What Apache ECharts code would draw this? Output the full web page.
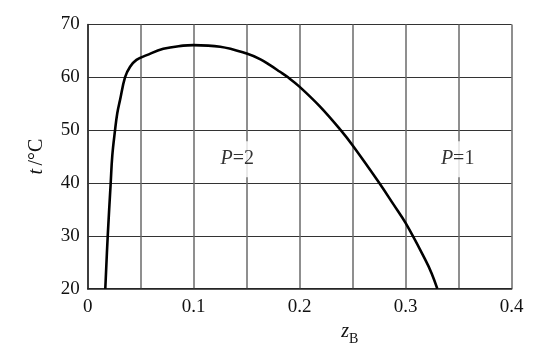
<!DOCTYPE html>
<html><head><meta charset="utf-8">
<script src="https://cdn.jsdelivr.net/npm/echarts@6/dist/echarts.min.js"></script>
<style>html,body{margin:0;padding:0;background:#fff}#c{width:554px;height:355px}</style>
</head><body><div id="c"></div>
<script>
var zB = [0.0166, 0.0189, 0.0217, 0.0232, 0.0258, 0.0279, 0.0305, 0.0352, 0.040, 0.046, 0.0557, 0.0713, 0.090, 0.0996, 0.125, 0.15, 0.163, 0.172, 0.181, 0.189, 0.2, 0.219, 0.2387, 0.25, 0.2751, 0.2883, 0.3, 0.3182, 0.3245, 0.3298];
var tC = [20, 30, 40, 45.2, 50, 53.2, 55.7, 60, 62.0, 63.3, 64.2, 65.4, 66.0, 66.1, 65.8, 64.5, 63.4, 62.3, 61.1, 60, 58.2, 54.5, 50, 47.1, 40, 36.0, 32.4, 25.6, 22.9, 20];
var regionLabels = ['2', '1'];
var regionZ = [0.141, 0.349];
var regionT = [44.5, 44.5];

var FONT = 'Liberation Serif';
var curve = zB.map(function (z, i) { return [z, tC[i]]; });
var labelsData = regionLabels.map(function (s, i) { return { value: [regionZ[i], regionT[i]], name: s }; });

var chart = echarts.init(document.getElementById('c'), null, { renderer: 'canvas' });
chart.setOption({
  animation: false,
  backgroundColor: '#fff',
  grid: { left: 87.7, right: 42.3, top: 24.5, bottom: 66.3 },
  xAxis: {
    type: 'value', min: 0, max: 0.4, interval: 0.05,
    axisLine: { show: true, lineStyle: { color: '#222', width: 1.5 } },
    axisTick: { show: false },
    axisLabel: {
      margin: 9, color: '#111', fontFamily: FONT, fontSize: 19,
      formatter: function (v) {
        var r = Math.round(v * 100) / 100;
        if (Math.abs(r * 10 - Math.round(r * 10)) > 1e-6) return '';
        return r === 0 ? '0' : r.toFixed(1);
      }
    },
    splitLine: { show: true, lineStyle: { color: '#6a6a6a', width: 1.5 } },
    name: '{z|z}{b|B}',
    nameLocation: 'middle',
    nameGap: 30,
    nameTextStyle: {
      padding: [0, 0, 0, 100],
      rich: {
        z: { fontFamily: FONT, fontStyle: 'italic', fontSize: 20, color: '#111', verticalAlign: 'bottom', padding: [0, 0, 5, 0] },
        b: { fontFamily: FONT, fontSize: 14, color: '#111', verticalAlign: 'bottom' }
      }
    }
  },
  yAxis: {
    type: 'value', min: 20, max: 70, interval: 10,
    axisLine: { show: true, lineStyle: { color: '#222', width: 1.5 } },
    axisTick: { show: false },
    axisLabel: { margin: 8, color: '#111', fontFamily: FONT, fontSize: 19 },
    splitLine: { show: true, lineStyle: { color: '#333', width: 1.2 } },
    name: '{t|t} {r|/°C}',
    nameLocation: 'middle',
    nameGap: 41,
    nameRotate: 90,
    nameTextStyle: {
      rich: {
        t: { fontFamily: FONT, fontStyle: 'italic', fontSize: 20, color: '#111' },
        r: { fontFamily: FONT, fontSize: 20, color: '#111' }
      }
    }
  },
  series: [
    {
      type: 'line', data: curve, smooth: 0.4, smoothMonotone: 'none', showSymbol: false,
      lineStyle: { color: '#000', width: 2.6 }, z: 5
    },
    {
      type: 'scatter', data: labelsData, symbolSize: 0, z: 6,
      label: {
        show: true, position: 'inside', color: '#000', textBorderWidth: 0,
        formatter: function (p) { return '{p|P}{e|=' + p.name + '}'; },
        backgroundColor: '#fff', padding: [8, 2, 8, 2],
        rich: {
          p: { fontFamily: FONT, fontStyle: 'italic', fontSize: 20, color: '#000', textBorderWidth: 0 },
          e: { fontFamily: FONT, fontSize: 20, color: '#000', textBorderWidth: 0 }
        }
      }
    }
  ]
});
</script></body></html>
